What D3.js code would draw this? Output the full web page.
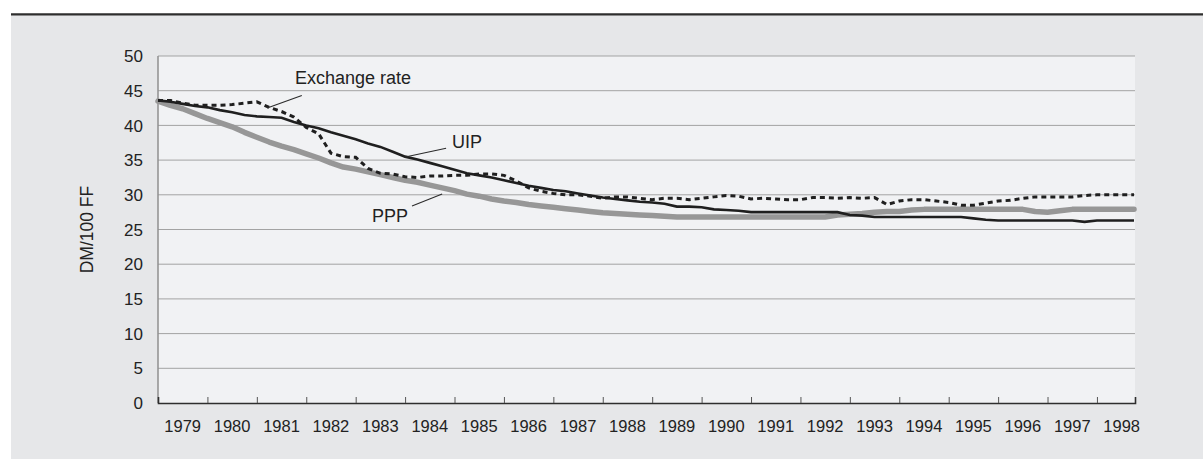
<!DOCTYPE html>
<html>
  <head>
    <meta charset="utf-8" />
    <title>DM/100 FF</title>
    <script src="https://d3js.org/d3.v7.min.js"></script>
    <style>
      body { margin: 0; background: white; }
      text { font-family: "Liberation Sans", Arial, sans-serif; fill: #222; }
    </style>
  </head>
  <body>
    <svg id="viz"></svg>
    <script>

    // quarterly observations
    var quarters = [
      "1979Q1","1979Q2","1979Q3","1979Q4","1980Q1","1980Q2","1980Q3","1980Q4",
      "1981Q1","1981Q2","1981Q3","1981Q4","1982Q1","1982Q2","1982Q3","1982Q4",
      "1983Q1","1983Q2","1983Q3","1983Q4","1984Q1","1984Q2","1984Q3","1984Q4",
      "1985Q1","1985Q2","1985Q3","1985Q4","1986Q1","1986Q2","1986Q3","1986Q4",
      "1987Q1","1987Q2","1987Q3","1987Q4","1988Q1","1988Q2","1988Q3","1988Q4",
      "1989Q1","1989Q2","1989Q3","1989Q4","1990Q1","1990Q2","1990Q3","1990Q4",
      "1991Q1","1991Q2","1991Q3","1991Q4","1992Q1","1992Q2","1992Q3","1992Q4",
      "1993Q1","1993Q2","1993Q3","1993Q4","1994Q1","1994Q2","1994Q3","1994Q4",
      "1995Q1","1995Q2","1995Q3","1995Q4","1996Q1","1996Q2","1996Q3","1996Q4",
      "1997Q1","1997Q2","1997Q3","1997Q4","1998Q1","1998Q2","1998Q3","1998Q4"
    ];

    var exchangeRate = [
      43.6, 43.6, 43.2, 42.9, 42.9, 42.9, 43.0, 43.2,
      43.4, 42.6, 42.0, 41.2, 39.7, 38.8, 36.0, 35.5,
      35.4, 33.8, 33.1, 33.0, 32.6, 32.5, 32.7, 32.7,
      32.8, 32.8, 33.0, 33.0, 32.8, 32.0, 31.0, 30.5,
      30.2, 30.0, 30.0, 29.8, 29.5, 29.7, 29.7, 29.5,
      29.3, 29.5, 29.5, 29.3, 29.5, 29.7, 29.9, 29.8,
      29.4, 29.5, 29.4, 29.3, 29.3, 29.6, 29.6, 29.5,
      29.6, 29.5, 29.6, 28.6, 29.1, 29.3, 29.3, 29.1,
      28.9, 28.5, 28.5, 28.8, 29.1, 29.2, 29.5, 29.7,
      29.7, 29.7, 29.7, 29.9, 30.0, 30.0, 30.0, 30.0
    ];

    var uip = [
      43.6, 43.4, 43.1, 42.8, 42.6, 42.2, 41.9, 41.5,
      41.3, 41.2, 41.1, 40.5, 40.0, 39.6, 39.0, 38.5,
      38.0, 37.4, 36.9, 36.2, 35.5, 35.1, 34.6, 34.1,
      33.6, 33.1, 32.8, 32.5, 32.1, 31.7, 31.3, 31.0,
      30.7, 30.5, 30.2, 29.9, 29.6, 29.4, 29.2, 29.0,
      28.9, 28.7, 28.3, 28.3, 28.2, 27.9, 27.8, 27.7,
      27.5, 27.5, 27.5, 27.5, 27.5, 27.5, 27.5, 27.5,
      27.1, 27.0, 26.8, 26.8, 26.8, 26.8, 26.8, 26.8,
      26.8, 26.8, 26.6, 26.4, 26.3, 26.3, 26.3, 26.3,
      26.3, 26.3, 26.3, 26.1, 26.3, 26.3, 26.3, 26.3
    ];

    var ppp = [
      43.5, 42.9, 42.4, 41.7, 41.0, 40.4, 39.8, 39.0,
      38.3, 37.6, 37.0, 36.5, 35.9, 35.3, 34.6, 34.0,
      33.7, 33.3, 32.9, 32.5, 32.1, 31.8, 31.4, 31.0,
      30.6, 30.1, 29.8, 29.4, 29.1, 28.9, 28.6, 28.4,
      28.2, 28.0, 27.8, 27.6, 27.4, 27.3, 27.2, 27.1,
      27.0, 26.9, 26.8, 26.8, 26.8, 26.8, 26.8, 26.8,
      26.8, 26.8, 26.8, 26.8, 26.8, 26.8, 26.8, 27.1,
      27.2, 27.3, 27.5, 27.6, 27.6, 27.8, 27.9, 27.9,
      27.9, 27.9, 27.9, 27.9, 27.9, 27.9, 27.9, 27.6,
      27.5, 27.7, 27.9, 27.9, 27.9, 27.9, 27.9, 27.9
    ];

    var yearLabels = [1979, 1980, 1981, 1982, 1983, 1984, 1985, 1986, 1987, 1988,
                      1989, 1990, 1991, 1992, 1993, 1994, 1995, 1996, 1997, 1998];
    var yTicks = [0, 5, 10, 15, 20, 25, 30, 35, 40, 45, 50];

    // label text, its anchor and its leader line, in data units (year, DM)
    var notes = [
      { text: "Exchange rate", tx: 1981.77, ty: 45.9, x1: 1981.91, y1: 44.3, x2: 1981.21, y2: 42.5 },
      { text: "UIP",           tx: 1984.95, ty: 36.7, x1: 1984.83, y1: 36.7, x2: 1983.98, y2: 35.4 },
      { text: "PPP",           tx: 1983.33, ty: 26.15, x1: 1984.14, y1: 28.4, x2: 1984.75, y2: 30.1 }
    ];

    var width = 1203, height = 459;
    var margin = { left: 158, right: 68, top: 56, bottom: 56 };

    var svg = d3.select("#viz").attr("width", width).attr("height", height);

    // grey panel and the rule above it
    svg.append("rect").attr("x", 11).attr("y", 15).attr("width", width - 11).attr("height", height - 15)
      .attr("fill", "#e6e7e9");
    svg.append("line").attr("x1", 11).attr("x2", width).attr("y1", 14.3).attr("y2", 14.3)
      .attr("stroke", "#2e2e2e").attr("stroke-width", 2.2);

    function toYear(q) {
      return +q.slice(0, 4) + (+q.slice(5) - 1) / 4;
    }

    var x = d3.scaleLinear().domain([1979, 1998.77]).range([margin.left, width - margin.right]);
    var y = d3.scaleLinear().domain([0, 50]).range([height - margin.bottom, margin.top]);

    // plot background
    svg.append("rect")
      .attr("x", x(1979)).attr("y", y(50))
      .attr("width", x(1998.77) - x(1979)).attr("height", y(0) - y(50))
      .attr("fill", "#f1f2f4");

    // gridlines
    svg.append("g").selectAll("line").data(yTicks.slice(1)).enter().append("line")
      .attr("x1", x(1979)).attr("x2", x(1998.77))
      .attr("y1", function(d) { return y(d); }).attr("y2", function(d) { return y(d); })
      .attr("stroke", "#a3a3a3").attr("stroke-width", 1);

    // left axis
    svg.append("line")
      .attr("x1", x(1979)).attr("x2", x(1979)).attr("y1", y(50)).attr("y2", y(0))
      .attr("stroke", "#8f8f8f").attr("stroke-width", 1.5);

    svg.append("g").selectAll("text").data(yTicks).enter().append("text")
      .attr("x", x(1979) - 15)
      .attr("y", function(d) { return y(d); })
      .attr("dy", "0.36em")
      .attr("text-anchor", "end")
      .style("font-size", "17px")
      .text(function(d) { return d; });

    // bottom axis with ticks pointing up at each new year
    var xAxis = d3.axisBottom(x)
      .tickValues(yearLabels.slice(1))
      .tickSize(-6)
      .tickFormat("");
    var gx = svg.append("g").attr("transform", "translate(0," + y(0) + ")").call(xAxis);
    gx.select(".domain").attr("stroke", "#2e2e2e").attr("stroke-width", 1.6);
    gx.selectAll(".tick line").attr("stroke", "#555");

    svg.append("g").selectAll("text").data(yearLabels).enter().append("text")
      .attr("x", function(d) { return x(d + 0.5); })
      .attr("y", y(0) + 29)
      .attr("text-anchor", "middle")
      .style("font-size", "16.5px")
      .text(function(d) { return d; });

    // y axis title
    svg.append("text")
      .attr("transform", "translate(" + 93 + "," + ((y(0) + y(50)) / 2) + ") rotate(-90)")
      .attr("text-anchor", "middle")
      .style("font-size", "17.5px")
      .text("DM/100 FF");

    // series
    function series(values) {
      return quarters.map(function(q, i) { return { t: toYear(q), v: values[i] }; });
    }
    var line = d3.line()
      .x(function(d) { return x(d.t); })
      .y(function(d) { return y(d.v); });

    svg.append("path").datum(series(ppp))
      .attr("d", line).attr("fill", "none")
      .attr("stroke", "#979797").attr("stroke-width", 5.5).attr("stroke-linejoin", "round")
      .attr("stroke-linecap", "round");

    svg.append("path").datum(series(uip))
      .attr("d", line).attr("fill", "none")
      .attr("stroke", "#1f1f1f").attr("stroke-width", 2.6);

    svg.append("path").datum(series(exchangeRate))
      .attr("d", line).attr("fill", "none")
      .attr("stroke", "#1f1f1f").attr("stroke-width", 3)
      .attr("stroke-dasharray", "5,4");

    // annotations
    var g = svg.append("g");
    g.selectAll("line").data(notes).enter().append("line")
      .attr("x1", function(d) { return x(d.x1); }).attr("y1", function(d) { return y(d.y1); })
      .attr("x2", function(d) { return x(d.x2); }).attr("y2", function(d) { return y(d.y2); })
      .attr("stroke", "#2b2b2b").attr("stroke-width", 1.1);
    g.selectAll("text").data(notes).enter().append("text")
      .attr("x", function(d) { return x(d.tx); })
      .attr("y", function(d) { return y(d.ty); })
      .style("font-size", "18px")
      .text(function(d) { return d.text; });

    </script>
  </body>
</html>
